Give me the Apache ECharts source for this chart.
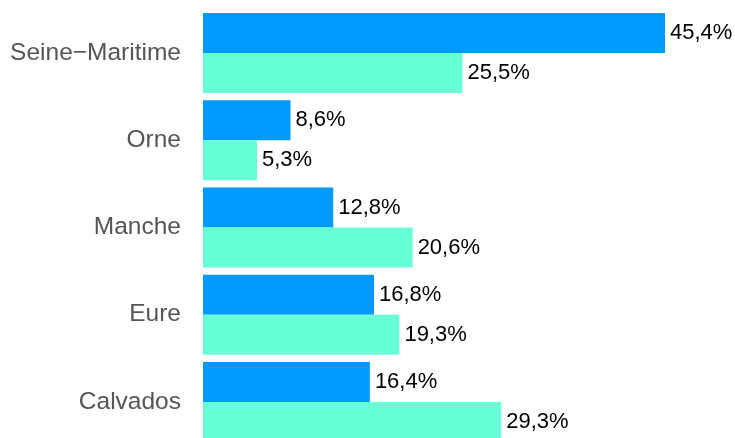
<!DOCTYPE html>
<html>
<head>
<meta charset="utf-8">
<script src="https://cdn.jsdelivr.net/npm/echarts@6/dist/echarts.min.js"></script>
<style>
  html, body { margin: 0; padding: 0; background: #ffffff; overflow: hidden; }
  #chart { width: 735px; height: 446px; }
</style>
</head>
<body>
<div id="chart"></div>
<script>
// Départements, listed bottom to top along the category axis
const departements = ['Calvados', 'Eure', 'Manche', 'Orne', 'Seine\u2212Maritime'];
// Shares in percent
const serieBleue = [16.4, 16.8, 12.8, 8.6, 45.4];
const serieTurquoise = [29.3, 19.3, 20.6, 5.3, 25.5];

const fmt = p => p.value.toFixed(1).replace('.', ',') + '%';

const labelStyle = {
  show: true,
  position: 'right',
  distance: 5,
  color: '#000000',
  fontSize: 22,
  fontFamily: 'Liberation Sans, Arial, sans-serif',
  formatter: fmt
};

const chart = echarts.init(document.getElementById('chart'), null, { renderer: 'canvas' });
chart.setOption({
  animation: false,
  grid: { left: 203, top: 9.5, width: 508.8, height: 436, containLabel: false },
  xAxis: {
    type: 'value',
    min: 0,
    max: 50,
    show: false
  },
  yAxis: {
    type: 'category',
    data: departements,
    axisLine: { show: false },
    axisTick: { show: false },
    splitLine: { show: false },
    axisLabel: {
      margin: 22,
      color: '#555555',
      fontSize: 24.5,
      fontFamily: 'Liberation Sans, Arial, sans-serif'
    }
  },
  series: [
    {
      name: 'bleu',
      type: 'bar',
      data: serieBleue,
      barWidth: 40,
      barGap: '0%',
      itemStyle: { color: '#0099ff' },
      label: labelStyle
    },
    {
      name: 'turquoise',
      type: 'bar',
      data: serieTurquoise,
      barWidth: 40,
      barGap: '0%',
      itemStyle: { color: '#66ffd6' },
      label: labelStyle
    }
  ]
});
</script>
</body>
</html>
